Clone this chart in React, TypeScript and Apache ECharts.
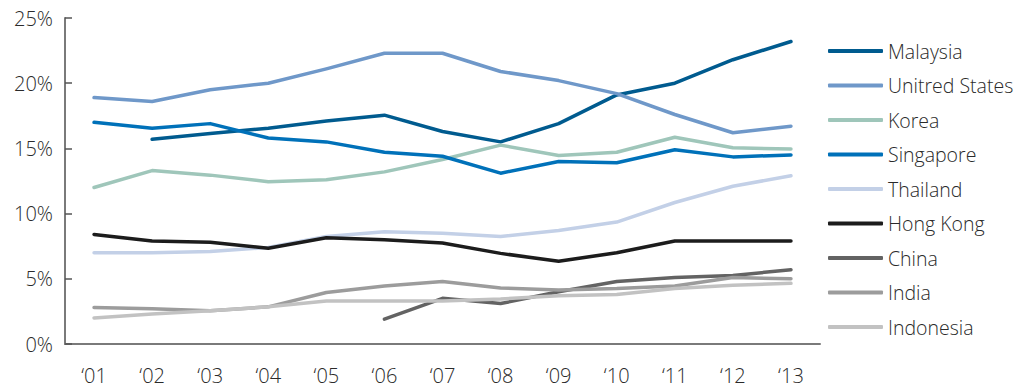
import React, { useEffect, useRef } from "react";
import * as echarts from "echarts";

const years = ["‘01", "‘02", "‘03", "‘04", "‘05", "‘06", "‘07", "‘08", "‘09", "‘10", "‘11", "‘12", "‘13"];

const malaysia = [null, 15.7, 16.15, 16.55, 17.1, 17.55, 16.3, 15.5, 16.9, 19.1, 20.0, 21.8, 23.2];
const unitedStates = [18.9, 18.6, 19.5, 20.0, 21.1, 22.3, 22.3, 20.9, 20.2, 19.2, 17.6, 16.2, 16.7];
const korea = [12.0, 13.3, 12.95, 12.45, 12.6, 13.2, 14.15, 15.25, 14.45, 14.7, 15.85, 15.05, 14.95];
const singapore = [17.0, 16.55, 16.9, 15.8, 15.5, 14.7, 14.4, 13.1, 14.0, 13.9, 14.9, 14.35, 14.5];
const thailand = [7.0, 7.0, 7.1, 7.4, 8.25, 8.6, 8.5, 8.25, 8.7, 9.35, 10.85, 12.1, 12.9];
const hongKong = [8.4, 7.9, 7.8, 7.35, 8.15, 8.0, 7.75, 6.95, 6.35, 7.0, 7.9, 7.9, 7.9];
const china = [null, null, null, null, null, 1.9, 3.5, 3.1, 4.0, 4.8, 5.1, 5.25, 5.7];
const india = [2.8, 2.7, 2.55, 2.85, 3.95, 4.45, 4.8, 4.3, 4.15, 4.25, 4.45, 5.1, 5.0];
const indonesia = [2.0, 2.3, 2.55, 2.85, 3.3, 3.3, 3.3, 3.45, 3.7, 3.8, 4.25, 4.5, 4.65];

const yTicks = [0, 5, 10, 15, 20, 25];

const seriesDefs = [
  { name: "Malaysia", data: malaysia, color: "#005b8f" },
  { name: "Unitred States", data: unitedStates, color: "#6f98c9" },
  { name: "Korea", data: korea, color: "#9fc6ba" },
  { name: "Singapore", data: singapore, color: "#0071b9" },
  { name: "Thailand", data: thailand, color: "#c3d0e7" },
  { name: "Hong Kong", data: hongKong, color: "#1c1c1c" },
  { name: "China", data: china, color: "#636363" },
  { name: "India", data: india, color: "#9c9c9c" },
  { name: "Indonesia", data: indonesia, color: "#c2c2c2" },
];

const FONT = "'Open Sans', Roboto, Arial, sans-serif";

export default function App() {
  const ref = useRef<HTMLDivElement>(null);

  useEffect(() => {
    document.body.style.margin = "0";
    if (!ref.current) return;
    const chart = echarts.init(ref.current, null, { renderer: "svg" });
    chart.setOption({
      animation: false,
      backgroundColor: "#ffffff",
      textStyle: { fontFamily: FONT, fontWeight: 300 },
      grid: { left: 65, right: 208, top: 18, bottom: 44, containLabel: false },
      legend: {
        orient: "vertical",
        left: 823,
        top: 36,
        itemWidth: 55,
        itemHeight: 4,
        itemGap: 14.5,
        itemTextGap: 4,
        icon: "roundRect",
        textStyle: {
          fontFamily: FONT,
          fontWeight: 300,
          fontSize: 19.5,
          lineHeight: 20,
          color: "#2a2a2a",
        },
        data: seriesDefs.map((s) => s.name),
      },
      xAxis: {
        type: "category",
        data: years,
        boundaryGap: true,
        axisLine: { lineStyle: { color: "#7a7a7a", width: 2 } },
        axisTick: { show: false },
        axisLabel: {
          fontFamily: FONT,
          fontWeight: 300,
          fontSize: 20,
          color: "#2a2a2a",
          margin: 21,
        },
        splitLine: { show: false },
      },
      yAxis: {
        type: "value",
        min: yTicks[0],
        max: yTicks[yTicks.length - 1],
        interval: 5,
        axisLine: { show: true, lineStyle: { color: "#7a7a7a", width: 2 } },
        axisTick: { show: true, inside: true, length: 7, lineStyle: { color: "#555555", width: 1.5 } },
        axisLabel: {
          fontFamily: FONT,
          fontWeight: 300,
          fontSize: 20,
          color: "#2a2a2a",
          margin: 12,
          formatter: (v: number) => `${v}%`,
        },
        splitLine: { show: false },
      },
      series: seriesDefs.map((s) => ({
        name: s.name,
        type: "line",
        data: s.data,
        color: s.color,
        symbol: "none",
        showSymbol: false,
        connectNulls: false,
        lineStyle: { width: 3.5, color: s.color, cap: "round", join: "round" },
        itemStyle: { color: s.color },
      })),
    });
    return () => chart.dispose();
  }, []);

  return <div ref={ref} style={{ width: 1028, height: 388 }} />;
}
